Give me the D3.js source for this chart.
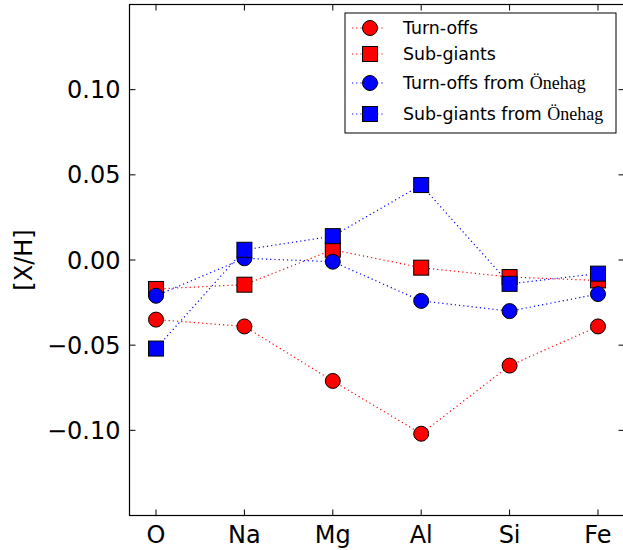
<!DOCTYPE html>
<html>
<head>
<meta charset="utf-8">
<script src="https://cdn.jsdelivr.net/npm/d3@7"></script>
<style>
  body { margin: 0; background: #fff; }
  svg { display: block; font-family: "DejaVu Sans", sans-serif; }
</style>
</head>
<body>
<div id="chart"></div>
<script>
const elements = ["O", "Na", "Mg", "Al", "Si", "Fe"];
const turnOffs = [-0.035, -0.039, -0.071, -0.102, -0.062, -0.039];
const subGiants = [-0.017, -0.0145, 0.006, -0.0045, -0.010, -0.012];
const turnOffsOnehag = [-0.021, 0.001, -0.001, -0.024, -0.030, -0.020];
const subGiantsOnehag = [-0.052, 0.006, 0.014, 0.044, -0.014, -0.008];
const yTicks = [-0.10, -0.05, 0.00, 0.05, 0.10];

const series = [
  { name: "Turn-offs", values: turnOffs, color: "#ff0000", shape: "circle" },
  { name: "Sub-giants", values: subGiants, color: "#ff0000", shape: "square" },
  { name: "Turn-offs from ", serif: "Önehag", values: turnOffsOnehag, color: "#0000ff", shape: "circle" },
  { name: "Sub-giants from ", serif: "Önehag", values: subGiantsOnehag, color: "#0000ff", shape: "square" }
];

const width = 623, height = 550;
const margin = { left: 129.5, right: -1.5, top: 4.5, bottom: 34.5 };

const svg = d3.select("#chart").append("svg")
  .attr("width", width).attr("height", height);

const x = d3.scaleLinear().domain([-0.3, 5.3]).range([margin.left, width - margin.right]);
const y = d3.scaleLinear().domain([-0.15, 0.15]).range([height - margin.bottom, margin.top]);

//BEGIN: lines and markers
const line = d3.line().x((d, i) => x(i)).y(d => y(d));

function drawMarker(g, shape, color) {
  if (shape === "circle") {
    g.append("circle").attr("r", 7.5);
  } else {
    g.append("rect").attr("x", -7.5).attr("y", -7.5).attr("width", 15).attr("height", 15);
  }
  g.selectAll("circle,rect")
    .attr("fill", color).attr("stroke", "#000").attr("stroke-width", 1);
}

series.forEach(s => {
  svg.append("path")
    .attr("d", line(s.values))
    .attr("fill", "none")
    .attr("stroke", s.color)
    .attr("stroke-width", 1.2)
    .attr("stroke-dasharray", "1.2,3");
});
series.forEach(s => {
  s.values.forEach((v, i) => {
    const g = svg.append("g").attr("transform", `translate(${x(i)},${y(v)})`);
    drawMarker(g, s.shape, s.color);
  });
});
//END: lines and markers

//BEGIN: axes frame
const axisG = svg.append("g").attr("fill", "none").attr("stroke", "#000");
axisG.append("rect")
  .attr("x", x(-0.3)).attr("y", y(0.15))
  .attr("width", x(5.3) - x(-0.3)).attr("height", y(-0.15) - y(0.15))
  .attr("stroke-width", 1.2);

elements.forEach((e, i) => {
  axisG.append("line").attr("x1", x(i)).attr("x2", x(i))
    .attr("y1", y(-0.15)).attr("y2", y(-0.15) - 6);
  axisG.append("line").attr("x1", x(i)).attr("x2", x(i))
    .attr("y1", y(0.15)).attr("y2", y(0.15) + 6);
  svg.append("text")
    .attr("x", x(i)).attr("y", 543)
    .attr("text-anchor", "middle")
    .attr("font-size", 24)
    .text(e);
});

yTicks.forEach(t => {
  axisG.append("line").attr("x1", x(-0.3)).attr("x2", x(-0.3) + 6)
    .attr("y1", y(t)).attr("y2", y(t));
  axisG.append("line").attr("x1", x(5.3)).attr("x2", x(5.3) - 6)
    .attr("y1", y(t)).attr("y2", y(t));
  svg.append("text")
    .attr("x", x(-0.3) - 9).attr("y", y(t))
    .attr("dy", "0.36em")
    .attr("text-anchor", "end")
    .attr("font-size", 24)
    .text(d3.format(".2f")(t).replace("-", "\u2212"));
});

svg.append("text")
  .attr("transform", `translate(32,${y(0)}) rotate(-90)`)
  .attr("text-anchor", "middle")
  .attr("font-size", 24)
  .text("[X/H]");
//END: axes frame

//BEGIN: legend
const legend = svg.append("g").attr("transform", "translate(345,13)");
legend.append("rect")
  .attr("width", 271).attr("height", 120)
  .attr("fill", "#fff").attr("stroke", "#000").attr("stroke-width", 1);

const rowY = [15, 41, 70, 101];
series.forEach((s, i) => {
  const row = legend.append("g").attr("transform", `translate(0,${rowY[i]})`);
  row.append("line")
    .attr("x1", 7).attr("x2", 40)
    .attr("stroke", s.color).attr("stroke-width", 1.2)
    .attr("stroke-dasharray", "1.2,3");
  const m = row.append("g").attr("transform", "translate(25,0)");
  drawMarker(m, s.shape, s.color);
  const txt = row.append("text")
    .attr("x", 58).attr("dy", "0.35em")
    .attr("font-size", 17.4)
    .text(s.name);
  if (s.serif) {
    txt.append("tspan")
      .attr("font-family", "'Liberation Serif', serif")
      .attr("font-size", 18)
      .text(s.serif);
  }
});
//END: legend
</script>
</body>
</html>
